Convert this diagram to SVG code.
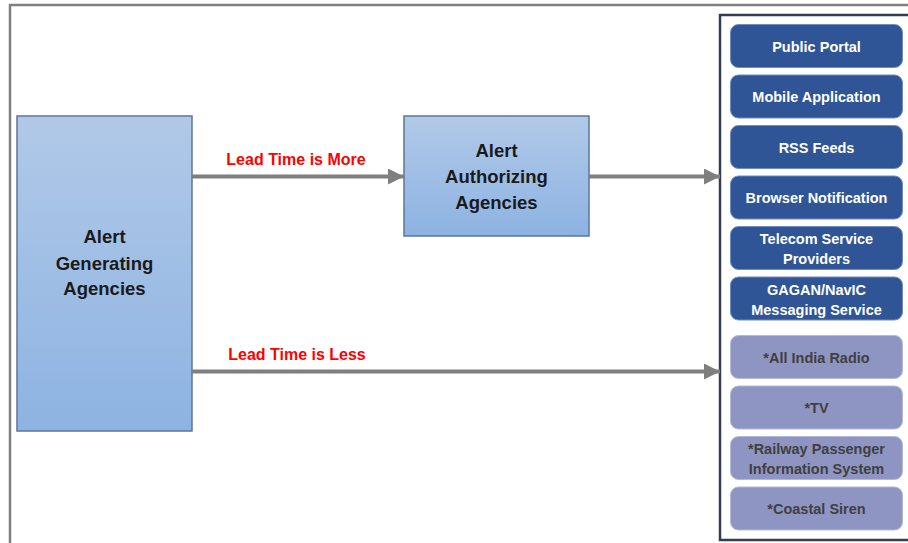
<svg xmlns="http://www.w3.org/2000/svg" width="908" height="543" viewBox="0 0 908 543">
<defs>
<linearGradient id="blueGrad" x1="0" y1="0" x2="0" y2="1">
<stop offset="0" stop-color="#b1c9e8"/>
<stop offset="1" stop-color="#8db3e2"/>
</linearGradient>
<marker id="arrow" viewBox="0 0 10 10" refX="10" refY="5" markerWidth="4" markerHeight="4" markerUnits="strokeWidth" orient="auto">
<path d="M0,0 L10,5 L0,10 z" fill="#7f7f7f"/>
</marker>
<style>
.frame{fill:#ffffff;stroke:#808080;stroke-width:2.5}
.agency{fill:url(#blueGrad);stroke:#5d7696;stroke-width:1.5}
.agencyText{font-family:"Liberation Sans",Arial,sans-serif;font-weight:bold;font-size:18.5px;fill:#1a1a1a;text-anchor:middle}
.conn{stroke:#7f7f7f;stroke-width:4;fill:none}
.lbl{font-family:"Liberation Sans",Arial,sans-serif;font-weight:bold;font-size:16px;fill:#ff0000;text-anchor:middle}
.panel{fill:#ffffff;stroke:#333f50;stroke-width:2.5}
.dark rect{fill:#2f5597;stroke:#6f8cc0;stroke-width:1}
.dark text{font-family:"Liberation Sans",Arial,sans-serif;font-weight:bold;font-size:14.5px;fill:#ffffff;text-anchor:middle}
.light rect{fill:#8e95c2;stroke:#b4b9d8;stroke-width:1}
.light text{font-family:"Liberation Sans",Arial,sans-serif;font-weight:bold;font-size:14.5px;fill:#404040;text-anchor:middle}
</style>
</defs>
<rect class="frame" x="10" y="5" width="920" height="560"/>
<rect class="panel" x="720" y="15" width="200" height="525"/>

<g id="alert-generating">
<rect class="agency" x="17" y="116" width="175" height="315"/>
<text class="agencyText" x="104.5" y="243">Alert</text>
<text class="agencyText" x="104.5" y="269.5">Generating</text>
<text class="agencyText" x="104.5" y="295">Agencies</text>
</g>

<g id="alert-authorizing">
<rect class="agency" x="404" y="116" width="185" height="120"/>
<text class="agencyText" x="496.5" y="157">Alert</text>
<text class="agencyText" x="496.5" y="183">Authorizing</text>
<text class="agencyText" x="496.5" y="209">Agencies</text>
</g>

<g id="connectors">
<line class="conn" x1="192" y1="176.5" x2="404" y2="176.5" marker-end="url(#arrow)"/>
<line class="conn" x1="589" y1="176.5" x2="720" y2="176.5" marker-end="url(#arrow)"/>
<line class="conn" x1="192" y1="371.5" x2="720" y2="371.5" marker-end="url(#arrow)"/>
<text class="lbl" x="296" y="165">Lead Time is More</text>
<text class="lbl" x="297" y="360">Lead Time is Less</text>
</g>

<g id="public-portal" class="dark">
<rect x="730.5" y="24.5" width="172" height="43" rx="8"/>
<text x="816.5" y="51.5">Public Portal</text>
</g>
<g id="mobile-application" class="dark">
<rect x="730.5" y="75" width="172" height="43" rx="8"/>
<text x="816.5" y="102">Mobile Application</text>
</g>
<g id="rss-feeds" class="dark">
<rect x="730.5" y="125.5" width="172" height="43" rx="8"/>
<text x="816.5" y="152.5">RSS Feeds</text>
</g>
<g id="browser-notification" class="dark">
<rect x="730.5" y="176" width="172" height="43" rx="8"/>
<text x="816.5" y="203">Browser Notification</text>
</g>
<g id="telecom" class="dark">
<rect x="730.5" y="226.5" width="172" height="43" rx="8"/>
<text x="816.5" y="244">Telecom Service</text>
<text x="816.5" y="264">Providers</text>
</g>
<g id="gagan" class="dark">
<rect x="730.5" y="277" width="172" height="43" rx="8"/>
<text x="816.5" y="294.5">GAGAN/NavIC</text>
<text x="816.5" y="314.5">Messaging Service</text>
</g>
<g id="all-india-radio" class="light">
<rect x="730.5" y="335.5" width="172" height="43" rx="8"/>
<text x="816.5" y="362.5">*All India Radio</text>
</g>
<g id="tv" class="light">
<rect x="730.5" y="386" width="172" height="43" rx="8"/>
<text x="816.5" y="413">*TV</text>
</g>
<g id="railway" class="light">
<rect x="730.5" y="436.5" width="172" height="43" rx="8"/>
<text x="816.5" y="454">*Railway Passenger</text>
<text x="816.5" y="474">Information System</text>
</g>
<g id="coastal-siren" class="light">
<rect x="730.5" y="487" width="172" height="43" rx="8"/>
<text x="816.5" y="514">*Coastal Siren</text>
</g>
</svg>
